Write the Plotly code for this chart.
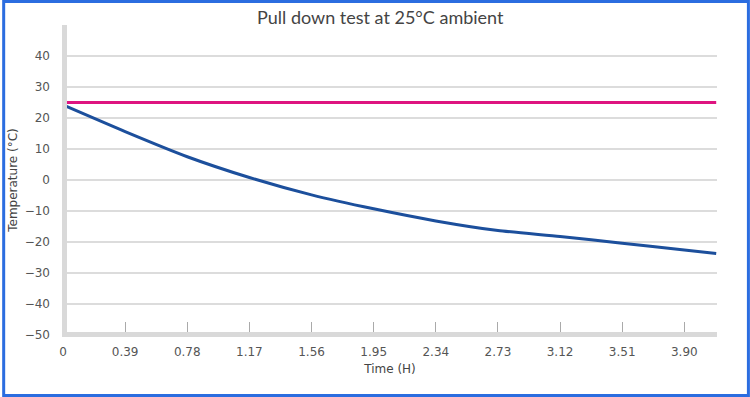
import plotly.graph_objects as go

# Data
time_h = [0, 0.39, 0.78, 1.17, 1.56, 1.95, 2.34, 2.73, 3.12, 3.51, 3.90, 4.10]
product_temp = [24.2, 15.6, 7.5, 0.8, -4.8, -9.3, -13.2, -16.3, -18.2, -20.4, -22.6, -23.7]
ambient_temp = [25, 25, 25, 25, 25, 25, 25, 25, 25, 25, 25, 25]
x_ticks = [0, 0.39, 0.78, 1.17, 1.56, 1.95, 2.34, 2.73, 3.12, 3.51, 3.90]
x_tick_labels = ["0", "0.39", "0.78", "1.17", "1.56", "1.95", "2.34", "2.73", "3.12", "3.51", "3.90"]
y_ticks = [-50, -40, -30, -20, -10, 0, 10, 20, 30, 40]

W, H = 750, 397
L, R, T, B = 61, 33, 25, 62
pw, ph = W - L - R, H - T - B

def px(x):
    return (x - L) / pw

def py(y):
    return (H - B - y) / ph

fig = go.Figure()
fig.add_trace(go.Scatter(x=time_h, y=ambient_temp, mode="lines",
                         line=dict(color="#de1480", width=3), name="Ambient"))
fig.add_trace(go.Scatter(x=time_h, y=product_temp, mode="lines",
                         line=dict(color="#1c4f9c", width=3, shape="spline", smoothing=0.6),
                         name="Temperature"))

tick_font = dict(family="DejaVu Sans", size=12, color="#555555")

fig.update_layout(
    width=W, height=H,
    margin=dict(l=L, r=R, t=T, b=B),
    paper_bgcolor="white", plot_bgcolor="white",
    showlegend=False,
    title=dict(text="Pull down test at 25°C ambient", x=0.507, xanchor="center",
               y=1 - 18 / H, yanchor="middle",
               font=dict(family="Lato", size=18, color="#444444")),
    xaxis=dict(range=[0, 4.105], tickvals=x_ticks, ticktext=x_tick_labels,
               showgrid=False, zeroline=False, showline=False,
               ticks="inside", ticklen=13, tickcolor="#aaaaaa", tickwidth=1,
               ticklabelstandoff=8, tickfont=tick_font,
               title=dict(text="Time (H)", standoff=6,
                          font=dict(family="DejaVu Sans", size=12, color="#444444"))),
    yaxis=dict(range=[-50, 50], tickvals=y_ticks,
               showgrid=True, gridcolor="#dcdcdc", gridwidth=2,
               zeroline=False, showline=False, ticks="",
               ticklabelstandoff=12, tickfont=tick_font,
               title=dict(text="Temperature (°C)", standoff=4,
                          font=dict(family="DejaVu Sans", size=12, color="#444444"))),
    shapes=[
        # left axis bar
        dict(type="rect", xref="paper", yref="paper", layer="above",
             x0=px(60), x1=px(65), y0=py(337), y1=py(25),
             fillcolor="#d9d9d9", line=dict(width=0)),
        # bottom axis bar
        dict(type="rect", xref="paper", yref="paper", layer="above",
             x0=px(60), x1=px(717), y0=py(337), y1=py(332),
             fillcolor="#d9d9d9", line=dict(width=0)),
        # outer blue border
        dict(type="rect", xref="paper", yref="paper", layer="above",
             x0=px(1.5), x1=px(748.5), y0=py(395.5), y1=py(1.5),
             fillcolor="rgba(0,0,0,0)", line=dict(color="#2b6de0", width=3)),
    ],
)

fig.write_html("out.html", config={"displayModeBar": False},
               post_script="document.body.style.margin='0';document.body.style.overflow='hidden';")
